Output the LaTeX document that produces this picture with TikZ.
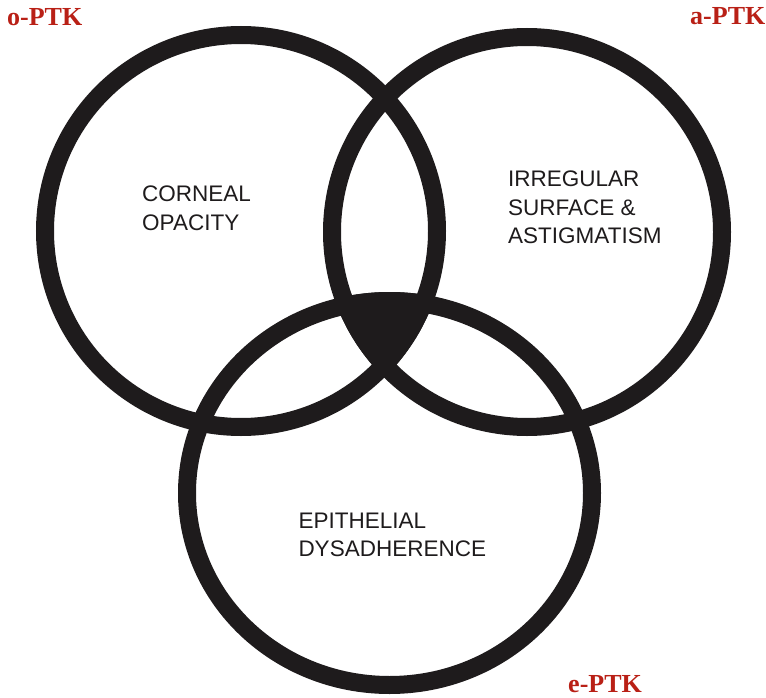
\documentclass[tikz,border=0pt]{standalone}
\usepackage{fontspec}
\setmainfont{Liberation Serif}
\setsansfont{Liberation Sans}
\definecolor{ink}{RGB}{30,27,28}
\definecolor{tagred}{RGB}{185,32,22}
\begin{document}
\begin{tikzpicture}[x=1pt,y=-1pt,
  ring/.style={draw=ink,line width=18pt},
  region/.style={font=\sffamily\fontsize{22.5}{28.3}\selectfont,text=ink,
    align=left,anchor=base west,inner sep=0pt},
  tag/.style={font=\rmfamily\bfseries\fontsize{26}{30}\selectfont,text=tagred,
    anchor=base west,inner sep=0pt}]
  \useasboundingbox (0,0) rectangle (766,698);
  % circle centres
  \coordinate (L) at (241,231);
  \coordinate (R) at (527,232);
  \coordinate (B) at (389.5,493);
  % common area of all three discs, filled solid
  \begin{scope}
    \clip (L) circle (205pt);
    \clip (R) circle (204pt);
    \fill[ink] (B) ellipse [x radius=211.5pt, y radius=201pt];
  \end{scope}
  % the three rings
  \draw[ring] (L) circle (196pt);
  \draw[ring] (R) circle (195pt);
  \draw[ring] (B) ellipse [x radius=202.5pt, y radius=192pt];
  % region labels (placed by the baseline of their last line)
  \node[region] (opac) at (142,230) {CORNEAL\\OPACITY};
  \node[region] (astig) at (508,243.3) {IRREGULAR\\SURFACE \&\\ASTIGMATISM};
  \node[region] (epi) at (298.3,556.3) {EPITHELIAL\\DYSADHERENCE};
  % circle tags
  \node[tag] (otag) at (7,26) {o-PTK};
  \node[tag] (atag) at (690,25) {a-PTK};
  \node[tag] (etag) at (568,692) {e-PTK};
\end{tikzpicture}
\end{document}
